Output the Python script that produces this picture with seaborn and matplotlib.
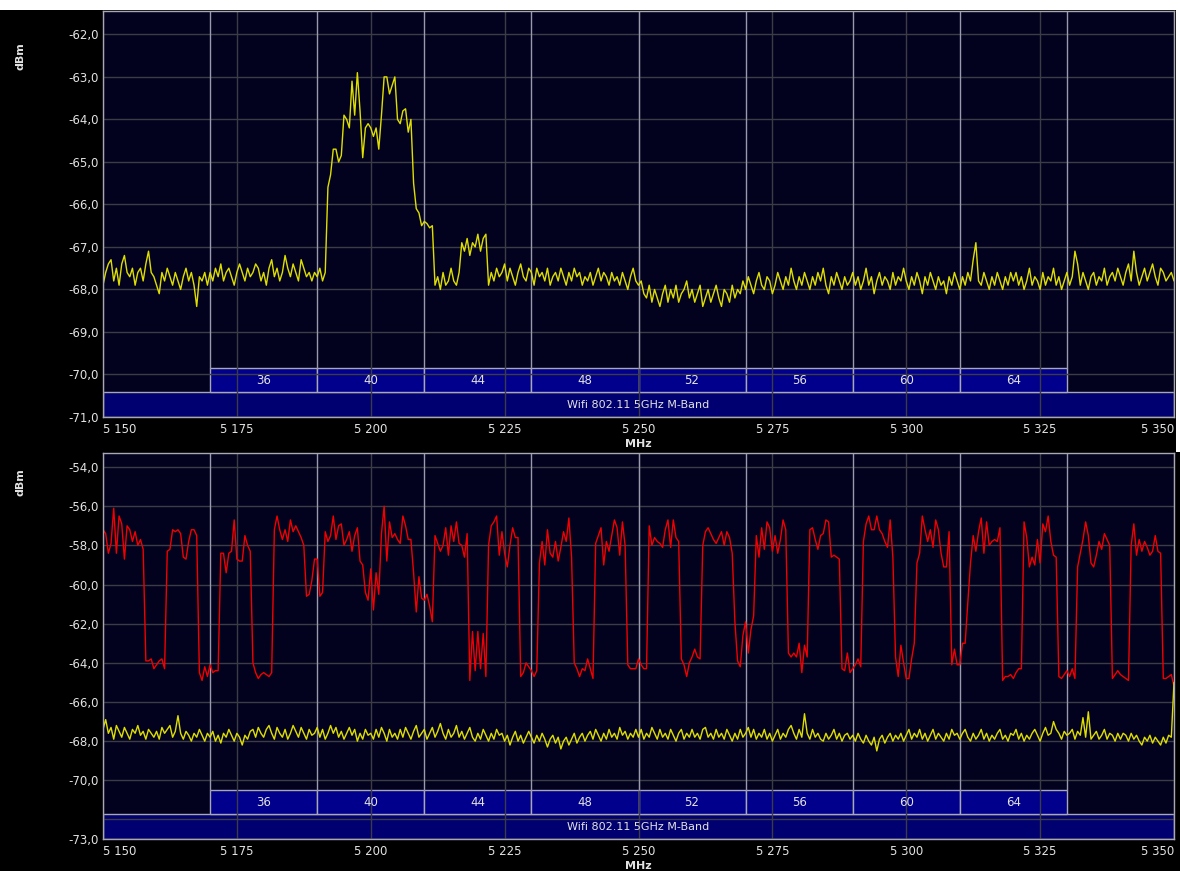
import numpy as np
import matplotlib
matplotlib.use('Agg')
import matplotlib.pyplot as plt
from matplotlib.patches import Rectangle
import seaborn as sns

# ---- data (dBm every 0.5 MHz) ----
freq_start, freq_stop, freq_step = 5150.0, 5350.0, 0.5

top_yellow = [
    -67.9, -67.6, -67.4, -67.3, -67.8, -67.5, -67.9, -67.4, -67.2, -67.6, -67.7, -67.5, -67.9, -67.6, -67.5, -67.8, -67.4, -67.1, -67.6, -67.7,
    -67.9, -68.1, -67.6, -67.8, -67.5, -67.7, -67.9, -67.6, -67.8, -68.0, -67.7, -67.5, -67.8, -67.6, -67.9, -68.4, -67.7, -67.8, -67.6, -67.9,
    -67.6, -67.8, -67.5, -67.7, -67.4, -67.8, -67.6, -67.5, -67.7, -67.9, -67.6, -67.4, -67.6, -67.8, -67.5, -67.7, -67.6, -67.4, -67.5, -67.8,
    -67.6, -67.9, -67.5, -67.3, -67.7, -67.5, -67.8, -67.6, -67.2, -67.5, -67.7, -67.4, -67.6, -67.8, -67.3, -67.5, -67.7, -67.6, -67.8, -67.6,
    -67.7, -67.5, -67.8, -67.6, -65.6, -65.3, -64.7, -64.7, -65.0, -64.85, -63.9, -64.0, -64.2, -63.1, -63.9, -62.9, -63.8, -64.9, -64.2, -64.1,
    -64.2, -64.4, -64.2, -64.7, -63.9, -63.0, -63.0, -63.4, -63.2, -63.0, -64.0, -64.1, -63.8, -63.75, -64.3, -64.0, -65.5, -66.1, -66.2, -66.5,
    -66.4, -66.45, -66.55, -66.5, -67.9, -67.7, -68.0, -67.6, -67.9, -67.8, -67.5, -67.8, -67.9, -67.6, -66.9, -67.1, -66.8, -67.2, -66.9, -67.0,
    -66.7, -67.1, -66.8, -66.7, -67.9, -67.6, -67.8, -67.5, -67.7, -67.6, -67.4, -67.8, -67.5, -67.7, -67.9, -67.6, -67.4, -67.7, -67.8, -67.5,
    -67.6, -67.9, -67.5, -67.7, -67.6, -67.8, -67.5, -67.9, -67.7, -67.6, -67.8, -67.5, -67.7, -67.9, -67.6, -67.8, -67.5, -67.7, -67.6, -67.9,
    -67.7, -67.8, -67.6, -67.9, -67.7, -67.5, -67.8, -67.6, -67.7, -67.9, -67.6, -67.8, -67.7, -67.9, -67.6, -67.8, -68.0, -67.7, -67.5, -67.8,
    -67.9, -67.8, -68.1, -68.2, -67.9, -68.3, -68.0, -68.2, -68.4, -68.1, -67.9, -68.3, -68.0, -68.2, -67.9, -68.3, -68.1, -68.0, -67.8, -68.2,
    -68.0, -68.3, -68.1, -67.9, -68.4, -68.2, -68.0, -68.3, -68.1, -67.9, -68.2, -68.4, -68.0, -68.1, -68.3, -67.9, -68.2, -68.0, -68.1, -67.8,
    -68.0, -67.7, -67.9, -68.1, -67.8, -67.6, -67.9, -68.0, -67.7, -67.8, -68.1, -67.9, -67.6, -67.8, -68.0, -67.7, -67.9, -67.5, -67.8, -68.0,
    -67.7, -67.9, -67.6, -67.8, -68.0, -67.7, -67.9, -67.6, -67.8, -67.5, -67.9, -68.1, -67.7, -67.9, -67.6, -67.8, -68.0, -67.7, -67.9, -67.8,
    -67.6, -67.9, -67.7, -68.0, -67.8, -67.5, -67.9, -67.7, -68.1, -67.8, -67.6, -67.9, -67.7, -67.8, -68.0, -67.6, -67.9, -67.7, -67.8, -67.5,
    -67.8, -68.0, -67.7, -67.9, -67.6, -67.8, -68.1, -67.7, -67.9, -67.6, -67.8, -68.0, -67.7, -67.9, -67.8, -68.1, -67.7, -67.9, -67.6, -67.8,
    -68.0, -67.7, -67.9, -67.6, -67.8, -67.3, -66.9, -67.8, -67.9, -67.6, -67.8, -68.0, -67.7, -67.9, -67.6, -67.8, -68.0, -67.7, -67.9, -67.6,
    -67.8, -67.6, -67.9, -67.7, -68.0, -67.8, -67.5, -67.9, -67.7, -67.8, -68.0, -67.6, -67.9, -67.7, -67.8, -67.5, -67.9, -67.7, -68.0, -67.8,
    -67.6, -67.9, -67.7, -67.1, -67.4, -67.9, -67.6, -67.8, -68.0, -67.7, -67.6, -67.9, -67.7, -67.8, -67.5, -67.9, -67.7, -67.6, -67.8, -67.5,
    -67.7, -67.9, -67.6, -67.4, -67.8, -67.1, -67.6, -67.9, -67.7, -67.5, -67.8, -67.6, -67.4, -67.7, -67.9, -67.5, -67.6, -67.8, -67.7, -67.6,
    -67.8,
]

bottom_red = [
    -57.2, -57.4, -58.4, -57.9, -56.1, -58.4, -56.5, -56.9, -58.7, -57.0, -57.2, -57.8, -57.3, -58.0, -57.7, -58.2, -63.9, -63.9, -63.8, -64.3,
    -64.1, -63.9, -63.8, -64.3, -58.3, -58.2, -57.2, -57.3, -57.2, -57.4, -58.6, -58.7, -57.8, -57.2, -57.2, -57.5, -64.5, -64.9, -64.2, -64.7,
    -64.1, -64.5, -64.4, -64.4, -58.4, -58.4, -59.4, -58.4, -58.3, -56.7, -58.7, -58.8, -58.8, -57.5, -58.0, -58.3, -64.0, -64.5, -64.8, -64.6,
    -64.5, -64.6, -64.7, -64.5, -57.2, -56.5, -57.2, -57.7, -57.2, -57.8, -56.7, -57.3, -57.0, -57.3, -57.6, -58.0, -60.6, -60.5, -59.8, -58.7,
    -58.7, -60.6, -60.4, -57.3, -57.8, -57.5, -56.5, -57.7, -57.0, -56.9, -58.0, -57.7, -57.3, -58.3, -57.5, -57.1, -58.8, -59.0, -60.4, -60.8,
    -59.2, -61.3, -59.4, -60.5, -57.4, -56.0, -58.8, -56.8, -57.6, -57.4, -57.7, -57.9, -56.5, -57.0, -57.7, -57.7, -59.4, -61.4, -59.6, -60.7,
    -60.8, -60.5, -61.1, -61.9, -57.5, -57.9, -58.3, -58.0, -57.1, -58.5, -57.0, -57.8, -56.8, -57.9, -58.0, -58.6, -57.4, -64.9, -62.4, -64.4,
    -62.4, -64.3, -62.5, -64.7, -58.0, -57.0, -56.8, -56.5, -58.5, -57.3, -58.4, -59.1, -58.0, -57.1, -57.6, -57.6, -64.7, -64.5, -64.0, -64.2,
    -64.4, -64.7, -64.4, -58.9, -57.8, -59.0, -57.2, -58.4, -58.6, -57.8, -58.8, -58.1, -57.3, -57.8, -56.6, -58.6, -64.0, -64.3, -64.7, -64.3,
    -64.4, -63.8, -64.3, -64.8, -57.9, -57.5, -57.1, -59.0, -57.8, -58.3, -57.5, -56.7, -57.1, -58.5, -56.8, -58.0, -64.1, -64.3, -64.3, -64.3,
    -63.8, -64.1, -64.3, -64.3, -57.0, -58.0, -57.6, -57.8, -57.9, -58.1, -57.2, -56.7, -58.1, -56.7, -57.6, -57.8, -63.8, -64.1, -64.7, -64.0,
    -63.7, -63.3, -63.7, -63.8, -58.0, -57.3, -57.1, -57.4, -57.7, -57.9, -57.6, -57.3, -58.0, -57.3, -57.6, -58.4, -61.9, -63.9, -64.2, -62.6,
    -61.9, -63.5, -62.3, -61.6, -57.5, -58.6, -57.1, -58.2, -56.8, -57.1, -58.3, -57.5, -58.4, -57.7, -56.7, -57.2, -63.5, -63.7, -63.5, -63.7,
    -63.0, -64.5, -63.1, -63.7, -57.2, -57.1, -57.7, -58.2, -57.5, -57.4, -56.7, -56.8, -58.6, -58.5, -58.6, -58.7, -64.3, -64.4, -63.5, -64.5,
    -64.3, -64.1, -63.8, -64.2, -57.8, -56.9, -56.5, -57.2, -57.2, -56.5, -57.2, -57.4, -57.8, -58.1, -56.7, -58.6, -63.7, -64.7, -63.1, -64.0,
    -64.8, -64.8, -63.8, -63.0, -58.9, -58.4, -56.5, -57.2, -57.8, -57.2, -58.1, -56.7, -57.2, -58.4, -59.1, -59.1, -57.3, -64.1, -63.3, -64.1,
    -64.1, -63.0, -63.0, -60.9, -58.9, -57.5, -58.3, -57.3, -56.6, -58.4, -56.8, -58.0, -57.8, -57.7, -57.8, -57.1, -64.9, -64.7, -64.7, -64.6,
    -64.8, -64.5, -64.3, -64.3, -56.8, -57.6, -59.1, -58.6, -59.0, -57.7, -58.9, -56.9, -57.3, -56.5, -57.8, -58.5, -58.6, -64.7, -64.8, -64.6,
    -64.4, -64.7, -64.3, -64.8, -59.1, -58.4, -57.7, -56.8, -57.5, -58.9, -59.1, -58.5, -57.8, -58.2, -57.4, -57.7, -58.0, -64.8, -64.6, -64.4,
    -64.6, -64.7, -64.8, -64.9, -58.0, -56.9, -58.5, -57.7, -58.3, -57.8, -58.1, -58.5, -58.3, -57.5, -58.3, -58.4, -64.8, -64.8, -64.7, -64.6,
    -65.2,
]

bottom_yellow = [
    -67.4, -66.9, -67.6, -67.3, -67.9, -67.2, -67.5, -67.8, -67.3, -67.6, -67.9, -67.4, -67.6, -67.2, -67.7, -67.5, -67.9, -67.4, -67.6, -67.8,
    -67.5, -67.9, -67.3, -67.6, -67.4, -67.2, -67.8, -67.5, -66.7, -67.6, -67.9, -67.5, -67.7, -68.0, -67.6, -67.8, -67.4, -67.7, -68.0, -67.6,
    -67.8, -67.5, -68.0, -67.7, -68.1, -67.6, -67.8, -67.4, -67.7, -68.0, -67.6, -67.8, -68.2, -67.7, -67.9, -67.5, -67.4, -67.8, -67.3, -67.6,
    -67.8, -67.4, -67.2, -67.6, -67.9, -67.3, -67.6, -67.8, -67.4, -67.9, -67.6, -67.2, -67.5, -67.8, -67.3, -67.6, -67.9, -67.4, -67.7, -67.6,
    -67.3, -67.8, -67.4, -67.9, -67.6, -67.2, -67.6, -67.3, -67.8, -67.5, -67.9, -67.6, -67.3, -67.7, -67.4, -68.0, -67.6, -67.9, -67.4, -67.7,
    -67.6, -67.9, -67.4, -67.8, -67.3, -67.6, -68.0, -67.4, -67.8, -67.6, -67.9, -67.4, -67.8, -67.3, -67.6, -67.9, -67.5, -67.2, -67.8, -67.6,
    -67.4, -67.9, -67.6, -67.3, -67.8, -67.5, -67.1, -67.6, -67.9, -67.4, -67.8, -67.6, -67.2, -67.8, -67.5, -67.9, -67.6, -67.3, -67.8, -68.0,
    -67.6, -67.9, -67.4, -67.7, -68.0, -67.6, -67.9, -67.4, -67.7, -67.6, -68.0, -67.7, -68.2, -67.8, -67.5, -68.0, -67.7, -68.1, -67.8, -67.5,
    -67.8, -68.1, -67.7, -68.0, -67.6, -67.9, -68.3, -67.9, -67.7, -68.1, -67.8, -68.4, -68.0, -67.8, -68.2, -67.9, -67.6, -68.1, -67.8, -67.6,
    -68.0, -67.7, -67.5, -67.9, -67.4, -67.7, -68.0, -67.6, -67.9, -67.4, -67.8, -67.6, -67.9, -67.3, -67.7, -67.5, -67.9, -67.6, -67.8, -67.4,
    -67.8, -67.4, -67.9, -67.6, -67.8, -67.3, -67.6, -67.9, -67.4, -67.8, -67.6, -67.9, -67.4, -67.7, -68.0, -67.6, -67.4, -67.9, -67.6, -67.8,
    -67.4, -67.8, -67.6, -67.9, -67.4, -67.3, -67.8, -67.6, -67.9, -67.4, -67.8, -67.6, -67.9, -67.4, -67.7, -68.0, -67.6, -67.9, -67.4, -67.8,
    -67.6, -67.3, -67.8, -67.4, -67.9, -67.6, -67.8, -67.4, -67.9, -67.6, -68.0, -67.7, -67.4, -67.9, -67.6, -67.8, -67.4, -67.2, -67.6, -67.9,
    -67.4, -67.8, -66.6, -67.6, -67.9, -67.4, -67.8, -67.6, -67.9, -68.0, -67.6, -67.9, -67.7, -67.4, -67.9, -67.6, -68.0, -67.7, -67.6, -67.9,
    -67.7, -68.0, -67.6, -67.9, -68.1, -67.7, -68.0, -68.2, -67.8, -68.5, -67.9, -67.7, -68.1, -67.8, -67.6, -68.0, -67.7, -67.9, -67.6, -68.0,
    -67.7, -67.4, -67.9, -67.6, -67.8, -67.4, -67.9, -67.6, -68.0, -67.7, -67.4, -67.9, -67.6, -67.8, -68.0, -67.6, -67.9, -67.4, -67.7, -67.6,
    -67.9, -67.6, -67.4, -67.8, -68.0, -67.6, -67.9, -67.7, -67.4, -67.9, -67.6, -68.0, -67.7, -67.9, -67.6, -67.4, -67.9, -67.7, -68.0, -67.6,
    -67.7, -67.4, -67.9, -67.6, -68.0, -67.7, -67.9, -67.6, -67.4, -67.7, -68.0, -67.6, -67.3, -67.7, -67.6, -67.0, -67.4, -67.6, -67.9, -67.5,
    -67.7, -67.6, -67.4, -67.9, -67.5, -67.7, -66.8, -67.8, -66.5, -67.9, -67.7, -67.5, -67.9, -67.7, -67.4, -67.9, -67.6, -67.7, -68.0, -67.6,
    -67.9, -67.6, -67.7, -68.0, -67.6, -67.9, -67.7, -68.0, -68.2, -67.8, -68.0, -67.7, -68.1, -67.8, -68.0, -68.2, -67.8, -68.1, -67.7, -67.8,
    -65.0,
]

channels = ['36', '40', '44', '48', '52', '56', '60', '64']
channel_edges = [5170, 5190, 5210, 5230, 5250, 5270, 5290, 5310, 5330]
band_label = 'Wifi 802.11 5GHz M-Band'
x_ticks = [5150, 5175, 5200, 5225, 5250, 5275, 5300, 5325, 5350]
top_y_ticks = [-62, -63, -64, -65, -66, -67, -68, -69, -70, -71]
top_y_labels = ['-62,0', '-63,0', '-64,0', '-65,0', '-66,0', '-67,0', '-68,0', '-69,0', '-70,0', '-71,0']
bot_y_ticks = [-54, -56, -58, -60, -62, -64, -66, -68, -70, -72, -73]
bot_y_labels = ['-54,0', '-56,0', '-58,0', '-60,0', '-62,0', '-64,0', '-66,0', '-68,0', '-70,0', '', '-73,0']

freq = np.arange(freq_start, freq_stop + freq_step / 2, freq_step)

# ---- look ----
sns.set_style('dark')
plt.rcParams['font.family'] = ['DejaVu Sans']

BG = '#02021e'
GRID = '#3c3c46'
CHAN_LINE = '#9a9aae'
SPINE = '#a8a8b4'
BOX = '#00008c'
BAND = '#000070'
TXT = '#e2e2e2'
YELLOW = '#dede00'
RED = '#f00000'

W, H = 1180, 871
fig = plt.figure(figsize=(W / 100, H / 100), dpi=100, facecolor='black')

# white strips of the screenshot border
fig.add_artist(Rectangle((0, 1 - 10 / H), 1, 10 / H, transform=fig.transFigure,
                         facecolor='white', edgecolor='none', zorder=-1))
fig.add_artist(Rectangle((1176 / W, 1 - 452 / H), 4 / W, 452 / H, transform=fig.transFigure,
                         facecolor='white', edgecolor='none', zorder=-1))


def px_axes(x0, y0, x1, y1):
    return fig.add_axes([x0 / W, 1 - y1 / H, (x1 - x0) / W, (y1 - y0) / H])


def draw_panel(ax, height_px, ylim, yticks, ylabels, traces):
    ax.set_facecolor(BG)
    ax.set_xlim(freq_start, freq_stop)
    ax.set_ylim(*ylim)
    ax.grid(False)

    band_f = 25 / height_px
    box_f = 49 / height_px
    tr = ax.get_xaxis_transform()

    for v in yticks:
        ax.axhline(v, color=GRID, lw=1, zorder=1.5)
    for v in x_ticks:
        ax.axvline(v, color=GRID, lw=1, zorder=1.5)
    for v in channel_edges:
        ax.axvline(v, ymin=box_f, ymax=1, color=CHAN_LINE, lw=1, zorder=1.6)

    # band strip and channel boxes
    ax.add_patch(Rectangle((freq_start, 0), freq_stop - freq_start, band_f, transform=tr,
                           facecolor=BAND, edgecolor=SPINE, lw=1, zorder=1))
    ax.text((freq_start + freq_stop) / 2, band_f / 2, band_label, transform=tr,
            ha='center', va='center', color=TXT, fontsize=8, zorder=3)
    for i, ch in enumerate(channels):
        x0, x1 = channel_edges[i], channel_edges[i + 1]
        ax.add_patch(Rectangle((x0, band_f), x1 - x0, box_f - band_f, transform=tr,
                               facecolor=BOX, edgecolor=SPINE, lw=1, zorder=1))
        ax.text((x0 + x1) / 2, (band_f + box_f) / 2, ch, transform=tr,
                ha='center', va='center', color=TXT, fontsize=8.5, zorder=3)

    for values, color in traces:
        sns.lineplot(x=freq, y=values, ax=ax, color=color, linewidth=1.0, zorder=2)

    ax.set_xticks(x_ticks)
    xl = ax.set_xticklabels([f'{v:,}'.replace(',', ' ') for v in x_ticks])
    xl[0].set_ha('left')
    xl[-1].set_ha('right')
    ax.set_yticks(yticks)
    ax.set_yticklabels(ylabels)
    ax.tick_params(length=0, colors=TXT, labelsize=8.5)
    ax.tick_params(axis='x', pad=4)
    ax.tick_params(axis='y', pad=3)
    ax.set_xlabel('')
    ax.set_ylabel('')
    for s in ax.spines.values():
        s.set_color(SPINE)
        s.set_linewidth(1)


ax_top = px_axes(103, 11, 1174, 417)
draw_panel(ax_top, 406, (-71.0, -61.45), top_y_ticks, top_y_labels,
           [(top_yellow, YELLOW)])

ax_bot = px_axes(103, 453, 1174, 839)
draw_panel(ax_bot, 386, (-73.0, -53.28), bot_y_ticks, bot_y_labels,
           [(bottom_red, RED), (bottom_yellow, YELLOW)])

for y in (56, 482):
    fig.text(20 / W, 1 - y / H, 'dBm', rotation=90, ha='center', va='center',
             color=TXT, fontsize=8, fontweight='bold')
for y in (444, 866):
    fig.text(638 / W, 1 - y / H, 'MHz', ha='center', va='center',
             color=TXT, fontsize=8, fontweight='bold')

fig.savefig('out.png', dpi=100, facecolor=fig.get_facecolor())
